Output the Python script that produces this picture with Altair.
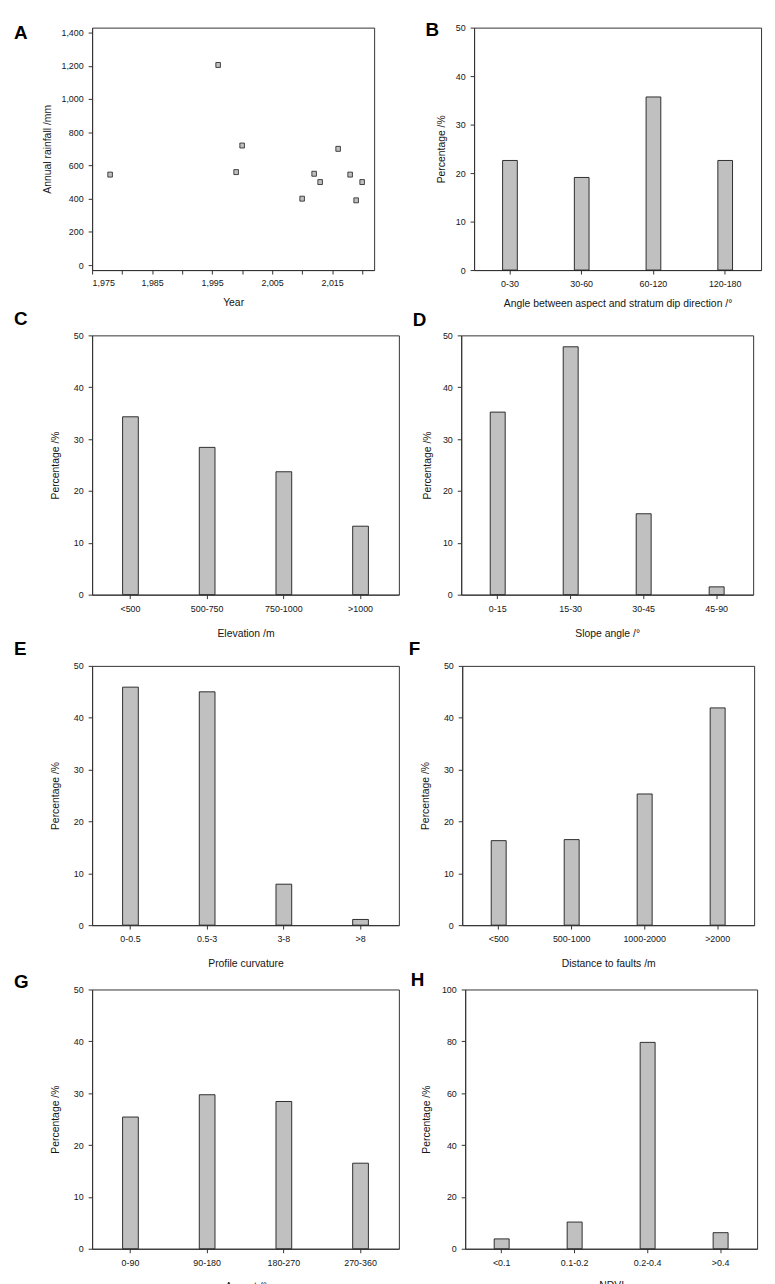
import altair as alt
import pandas as pd

FONT = "Liberation Sans"
TXT = "#151515"
AX = "#333333"
BAR_FILL = "#c0c0c0"
BAR_STROKE = "#1a1a1a"

# ---- Panel A data ----
years = [1978, 1996, 1999, 2000, 2010, 2012, 2013, 2016, 2018, 2019, 2020]
rainfall = [545, 1205, 560, 720, 400, 550, 500, 700, 545, 390, 500]
failures = [1, 44, 9, 1, 1, 4, 1, 1, 1, 1, 2]
year_ticks = [1975, 1980, 1985, 1990, 1995, 2000, 2005, 2010, 2015, 2020]
rain_ticks = [0, 200, 400, 600, 800, 1000, 1200, 1400]

# ---- Panels B-H data ----
b_cats = ["0-30", "30-60", "60-120", "120-180"]
b_vals = [22.6, 19.1, 35.7, 22.6]
c_cats = ["<500", "500-750", "750-1000", ">1000"]
c_vals = [34.3, 28.4, 23.7, 13.2]
d_cats = ["0-15", "15-30", "30-45", "45-90"]
d_vals = [35.2, 47.8, 15.6, 1.5]
e_cats = ["0-0.5", "0.5-3", "3-8", ">8"]
e_vals = [45.9, 45.0, 7.9, 1.1]
f_cats = ["<500", "500-1000", "1000-2000", ">2000"]
f_vals = [16.3, 16.5, 25.3, 41.9]
g_cats = ["0-90", "90-180", "180-270", "270-360"]
g_vals = [25.4, 29.7, 28.4, 16.5]
h_cats = ["<0.1", "0.1-0.2", "0.2-0.4", ">0.4"]
h_vals = [3.8, 10.3, 79.6, 6.2]


def letter_title(letter, dx, dy):
    return alt.TitleParams(text=letter, anchor="start", frame="group",
                           dx=dx, dy=dy, font=FONT, fontSize=19,
                           fontWeight="bold", color="#000000")


def panel(letter, cats, vals, xtitle, ymax, ystep, width, height,
          dx, dy, ytp, xtp):
    df = pd.DataFrame({"cat": cats, "val": vals})
    return alt.Chart(df, title=letter_title(letter, dx, dy)).mark_bar(
        fill=BAR_FILL, stroke=BAR_STROKE, strokeWidth=0.9
    ).encode(
        x=alt.X("cat:N",
                scale=alt.Scale(domain=cats, paddingInner=0.795, paddingOuter=0.3975),
                axis=alt.Axis(title=xtitle, labelAngle=0, titlePadding=xtp,
                              labelPadding=6)),
        y=alt.Y("val:Q", scale=alt.Scale(domain=[0, ymax], nice=False),
                axis=alt.Axis(values=list(range(0, ymax + 1, ystep)),
                              title="Percentage /%", titlePadding=ytp)),
    ).properties(width=width, height=height)


# ---- Panel A (bars only, test) ----
dfa = pd.DataFrame({"year": years, "rain": rainfall, "events": failures})

panelA = alt.Chart(dfa, title=letter_title("A", -79, 20)).transform_calculate(
    y0="datum.year - 0.38", y1="datum.year + 0.38"
).mark_bar(
    fill=BAR_FILL, stroke=BAR_STROKE, strokeWidth=0.8
).encode(
    x=alt.X("y0:Q",
            scale=alt.Scale(domain=[1975, 2022], nice=False, zero=False),
            axis=alt.Axis(values=year_ticks, title="Year",
                          titlePadding=10, labelPadding=5)),
    x2="y1:Q",
    y=alt.Y("rain:Q", scale=alt.Scale(domain=[0, 1400], nice=False),
            axis=alt.Axis(values=rain_ticks, title="Annual rainfall /mm",
                          titlePadding=9)),
).properties(width=285, height=245)

panelB = panel("B", b_cats, b_vals, "Angle between aspect and stratum dip direction /°",
               50, 10, 290, 245, -49, 20, 9, 10)
panelC = panel("C", c_cats, c_vals, "Elevation /m", 50, 10, 310, 262, -79, 2, 12.5, 15)
panelD = panel("D", d_cats, d_vals, "Slope angle /°", 50, 10, 295, 262, -49, 3, 10, 15)
panelE = panel("E", e_cats, e_vals, "Profile curvature", 50, 10, 310, 262, -79, 1, 12.5, 15)
panelF = panel("F", f_cats, f_vals, "Distance to faults /m", 50, 10, 295, 262, -54, 1, 13, 15)
panelG = panel("G", g_cats, g_vals, "Aspect /°", 50, 10, 310, 262, -79, 10, 12.5, 14)
panelH = panel("H", h_cats, h_vals, "NDVI", 100, 20, 295, 262, -55, 8, 10, 13)

row1 = alt.hconcat(panelA, panelB, spacing=50)
row2 = alt.hconcat(panelC, panelD, spacing=12)
row3 = alt.hconcat(panelE, panelF, spacing=8)
row4 = alt.hconcat(panelG, panelH, spacing=10)

chart = alt.vconcat(row1, row2, row3, row4, spacing=0).configure_view(
    stroke=AX, strokeWidth=1
).configure_axis(
    labelFont=FONT, labelFontSize=9, labelColor=TXT,
    titleFont=FONT, titleFontSize=10.5, titleFontWeight="normal", titleColor=TXT,
    tickSize=4, tickColor=AX, tickWidth=1, domainColor=AX, domainWidth=1,
    labelPadding=5, grid=False,
)

chart.save("out.html", embed_options={"renderer": "svg", "actions": False})
